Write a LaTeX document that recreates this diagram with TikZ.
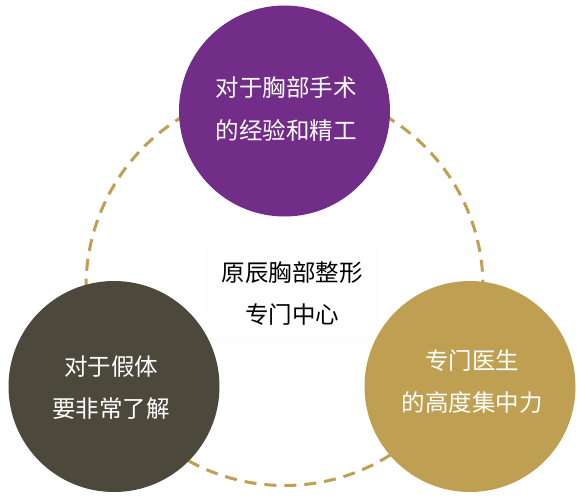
\documentclass[tikz,border=0pt]{standalone}
\usepackage{fontspec}
\newfontfamily\cjk{Noto Sans CJK SC}
\definecolor{cpurple}{HTML}{722D88}
\definecolor{cdark}{HTML}{4C493C}
\definecolor{cgold}{HTML}{BFA052}
\begin{document}
\begin{tikzpicture}[x=1pt,y=-1pt,
  bigc/.style={circle,minimum size=211pt,inner sep=0pt,text=white,font=\cjk\fontsize{23.5}{42}\selectfont,align=center},
  ctext/.style={font=\cjk\fontsize{23.5}{42}\selectfont,align=center,text=black}]
\useasboundingbox (0,0) rectangle (580,500);
\fill[white] (0,0) rectangle (580,500);
\coordinate (dc) at (284.5,287);
\draw[cgold,line width=3pt,dash pattern=on 12pt off 8pt] (dc) circle (198.5);
\node[fill=white,draw=black!1.5,minimum width=170pt,minimum height=90pt] (box) at (291,294) {};
\node[ctext,anchor=center] (t1) at (292,273) {原辰胸部整形};
\node[ctext,anchor=center] (t2) at (292,315) {专门中心};
\node[bigc,fill=cpurple] (top) at (284.5,111) {};
\node[bigc,fill=cdark] (left) at (114,386.5) {};
\node[bigc,fill=cgold] (right) at (470,386.5) {};
\node[bigc,anchor=center] (ta) at (286,88) {对于胸部手术};
\node[bigc,anchor=center] (tb) at (286,130) {的经验和精工};
\node[bigc,anchor=center] (la) at (111,367) {对于假体};
\node[bigc,anchor=center] (lb) at (111,409) {要非常了解};
\node[bigc,anchor=center] (ra) at (472,361) {专门医生};
\node[bigc,anchor=center] (rb) at (472,403) {的高度集中力};
\end{tikzpicture}
\end{document}
